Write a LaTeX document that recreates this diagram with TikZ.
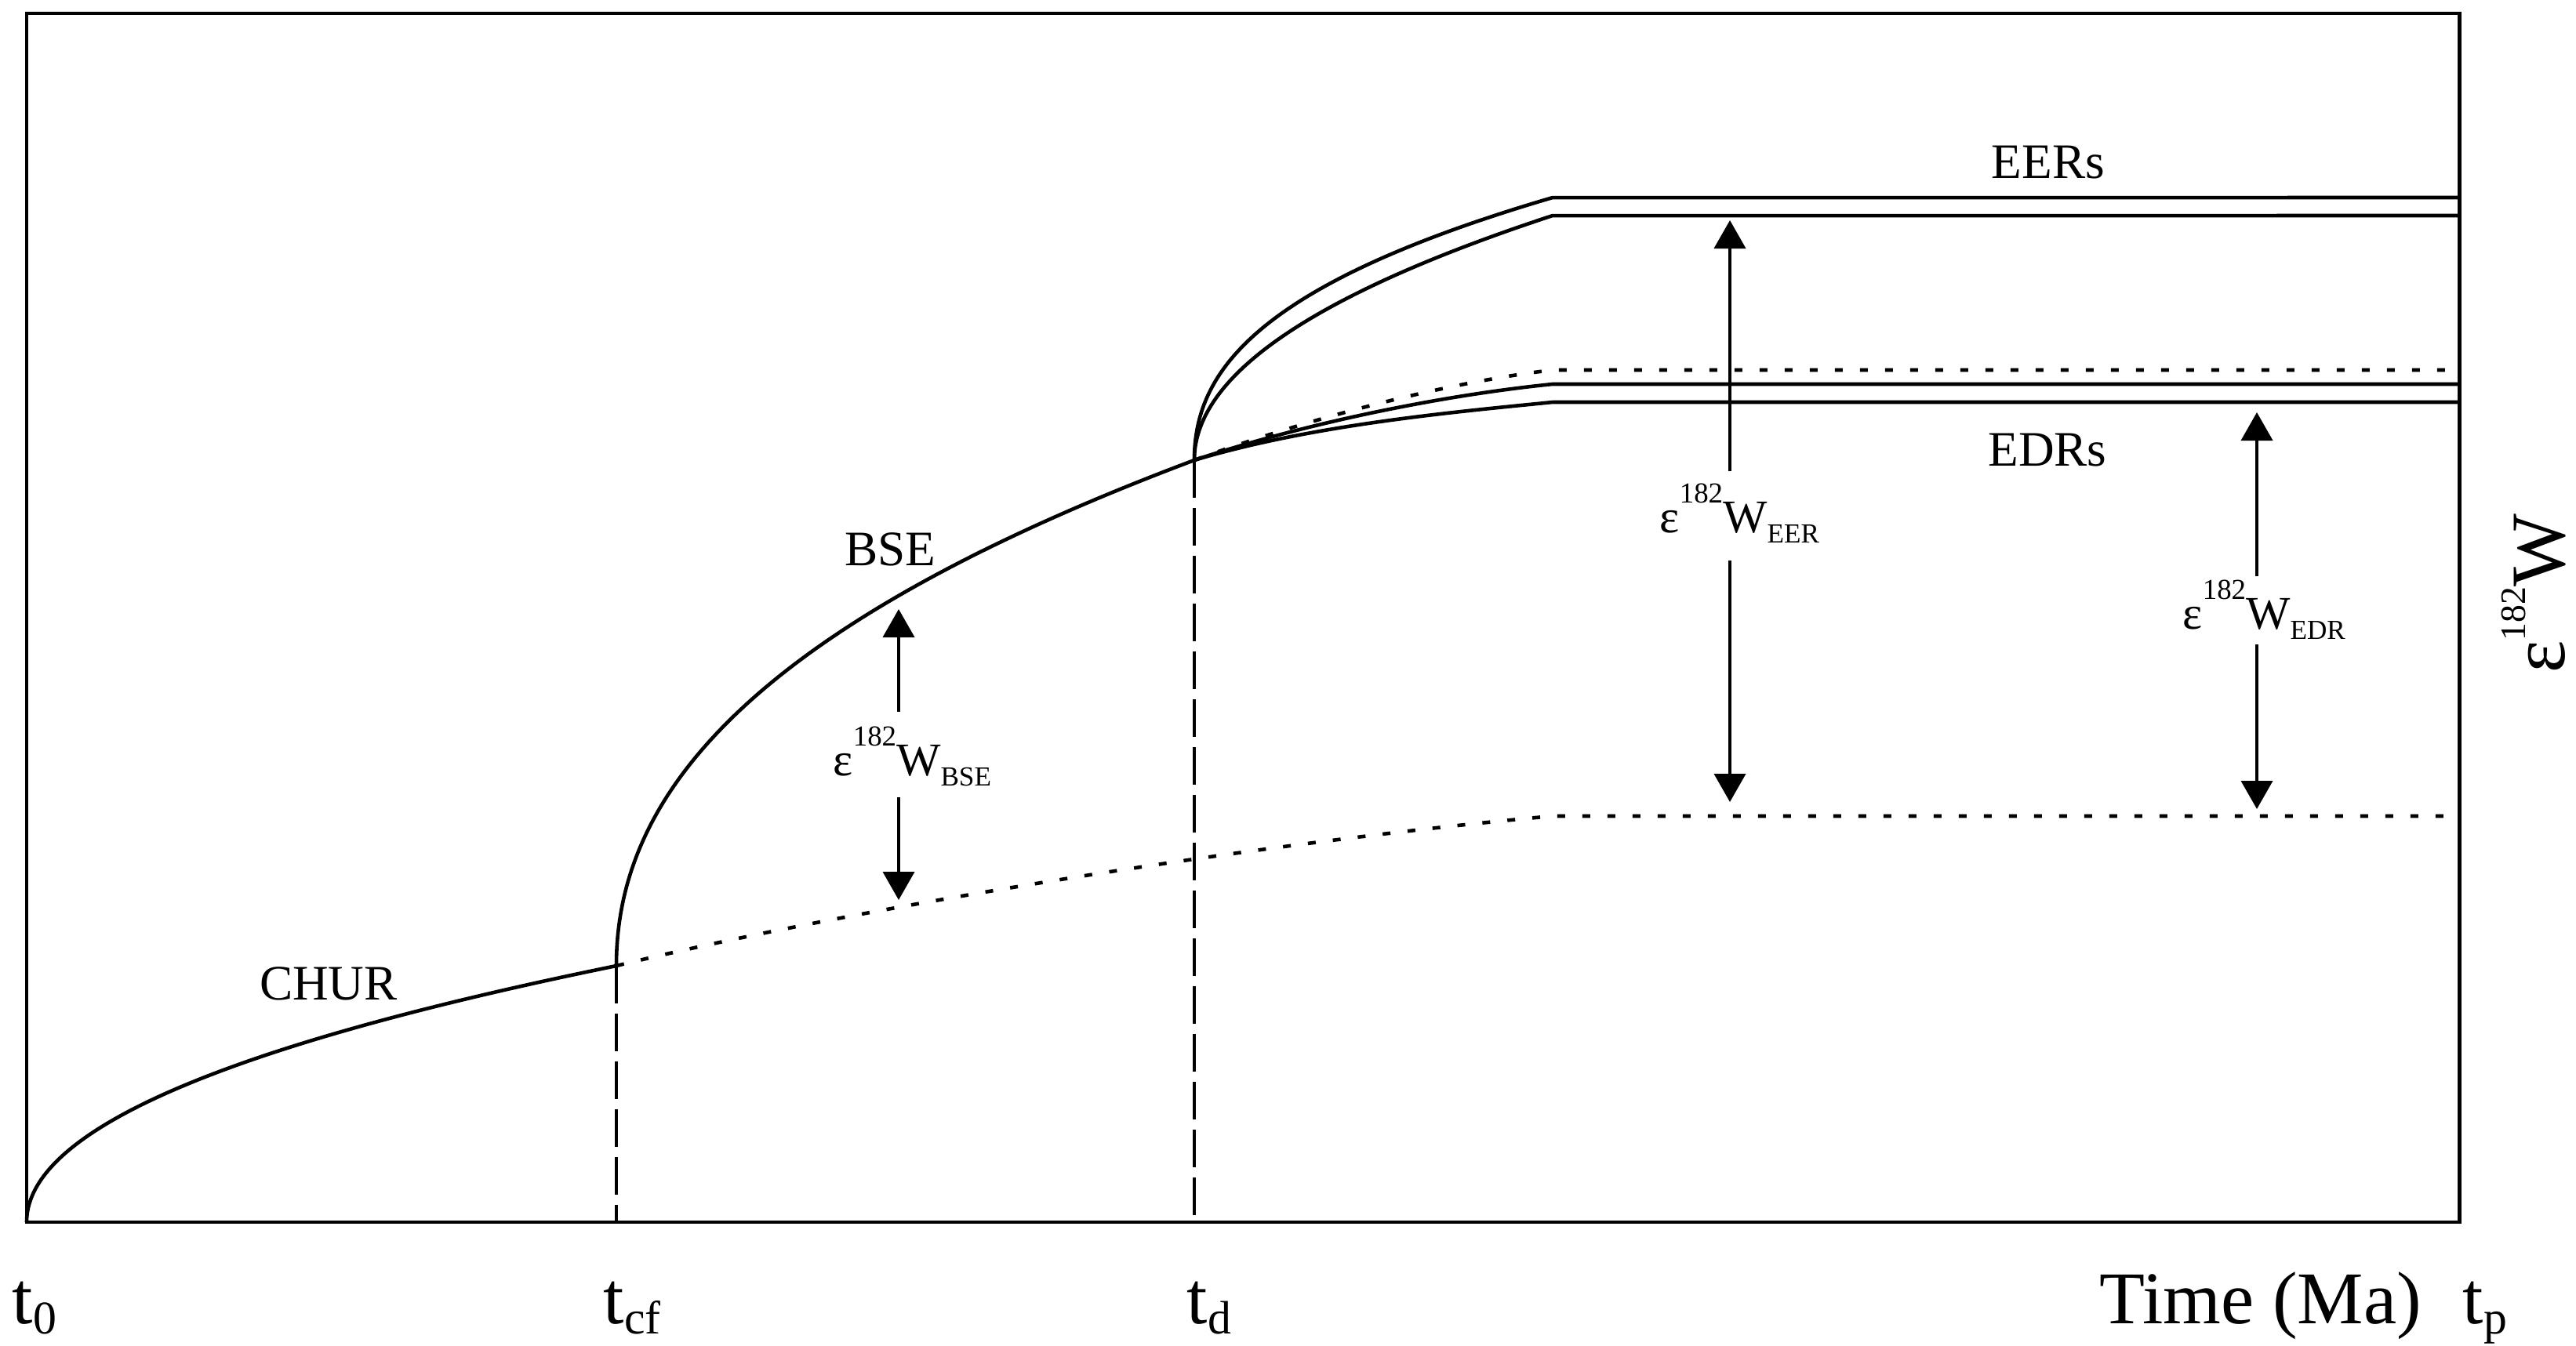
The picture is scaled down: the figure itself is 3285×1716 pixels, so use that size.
\documentclass[tikz,border=0pt]{standalone}
\usepackage{fontspec}
\setmainfont{Liberation Serif}
\usetikzlibrary{arrows.meta}
\newcommand{\ewlab}[1]{ε\raisebox{0.62em}{\fontsize{10.5}{12}\selectfont 182}W\raisebox{-0.22em}{\fontsize{10}{12}\selectfont #1}}
\newcommand{\tsub}[1]{t\raisebox{-0.14em}{\fontsize{17}{20}\selectfont #1}}
\begin{document}
\begin{tikzpicture}[x=0.1mm,y=-0.1mm,
 curve/.style={line width=1.3pt},
 frame/.style={line width=1.4pt},
 dashv/.style={line width=1.4pt, dash pattern=on 4.8mm off 1.3mm},
 dotl/.style={line width=1.3pt, dash pattern=on 1mm off 2.2mm},
 arr/.style={line width=1.1pt, -{Triangle[length=3.6mm,width=4mm]}},
 lab/.style={font=\fontsize{18}{20}\selectfont, inner sep=0pt, anchor=base},
 ax/.style={font=\fontsize{27}{30}\selectfont, inner sep=0pt, anchor=base west},
 ew/.style={font=\fontsize{17}{20}\selectfont, inner sep=0pt, anchor=base west}]
\useasboundingbox (0,0) rectangle (3285,1716);
\fill[white] (0,0) rectangle (3285,1716);

% key points
\coordinate (O) at (34,1559);
\coordinate (cf) at (786,1232);
\coordinate (cfb) at (786,1559);
\coordinate (td) at (1523,587);
\coordinate (tdb) at (1523,1559);

% frame
\draw[frame] (34,17) rectangle (3136,1559);

% CHUR
\draw[curve] plot[domain=0:1, samples=90, variable=\u] ({34+752*(0.87*\u*\u+0.13*\u*\u*\u)}, {1559-327*\u});
% BSE
\draw[curve] plot[domain=0:1, samples=90, variable=\u] ({786+737*(0.67*\u*\u+0.33*\u*\u*\u)}, {1232-645*\u});
% EER curves
\draw[curve] plot[domain=0:1, samples=90, variable=\u] ({1523+457*(0.5*\u*\u+0.5*\u*\u*\u)}, {587-335*\u}) -- (3136,252);
\draw[curve] plot[domain=0:1, samples=90, variable=\u] ({1523+457*(0.92*\u*\u+0.08*\u*\u*\u)}, {587-312*\u}) -- (3136,275);
% EDR curves
\draw[curve] (td) .. controls (1673,542) and (1850,526) .. (1980,513) -- (3136,513);
\draw[curve] (td) .. controls (1673,537) and (1850,503) .. (1980,490) -- (3136,490);
\draw[dotl] (td) .. controls (1673,532) and (1850,487) .. (1980,472) -- (3136,472);
% CHUR continuation (dotted)
\draw[dotl] (cf) .. controls (1080,1160) and (1600,1075) .. (1980,1041) -- (3136,1041);

% vertical dashed lines
\draw[dashv] (cf) -- (cfb);
\draw[dashv] (td) -- (tdb);

% labels
\node[lab] (chur) at (419,1275) {CHUR};
\node[lab] (bse) at (1135,721) {BSE};
\node[lab] (eers) at (2612,227) {EERs};
\node[lab] (edrs) at (2611,594) {EDRs};

\node[ew] (leer) at (2116,679) {\ewlab{EER}};
\node[ew] (ledr) at (2783,802) {\ewlab{EDR}};
\node[ew] (lbse) at (1062,989) {\ewlab{BSE}};

% arrows
\coordinate (eerA) at (2206,601);
\coordinate (eerT) at (2206,281);
\coordinate (eerB) at (2206,715);
\coordinate (eerD) at (2206,1023);
\coordinate (edrA) at (2878,735);
\coordinate (edrT) at (2878,526);
\coordinate (edrB) at (2878,822);
\coordinate (edrD) at (2878,1032);
\coordinate (bseA) at (1146,908);
\coordinate (bseT) at (1146,777);
\coordinate (bseB) at (1146,1017);
\coordinate (bseD) at (1146,1148);
\draw[arr] (eerA) -- (eerT);
\draw[arr] (eerB) -- (eerD);
\draw[arr] (edrA) -- (edrT);
\draw[arr] (edrB) -- (edrD);
\draw[arr] (bseA) -- (bseT);
\draw[arr] (bseB) -- (bseD);

% axis labels
\node[ax] (t0) at (15,1688) {\tsub{0}};
\node[ax] (tcf) at (769,1688) {\tsub{cf}};
\node[ax] (tdl) at (1513,1688) {\tsub{d}};
\node[ax] (time) at (2677,1688) {Time (Ma)};
\node[ax] (tp) at (3140,1688) {\tsub{p}};

% y label
\node[rotate=90, anchor=base, inner sep=0pt, font=\fontsize{28}{30}\selectfont] (ylab) at (3270,757) {ε\raisebox{0.5em}{\fontsize{13}{15}\selectfont 182}W};
\end{tikzpicture}
\end{document}
